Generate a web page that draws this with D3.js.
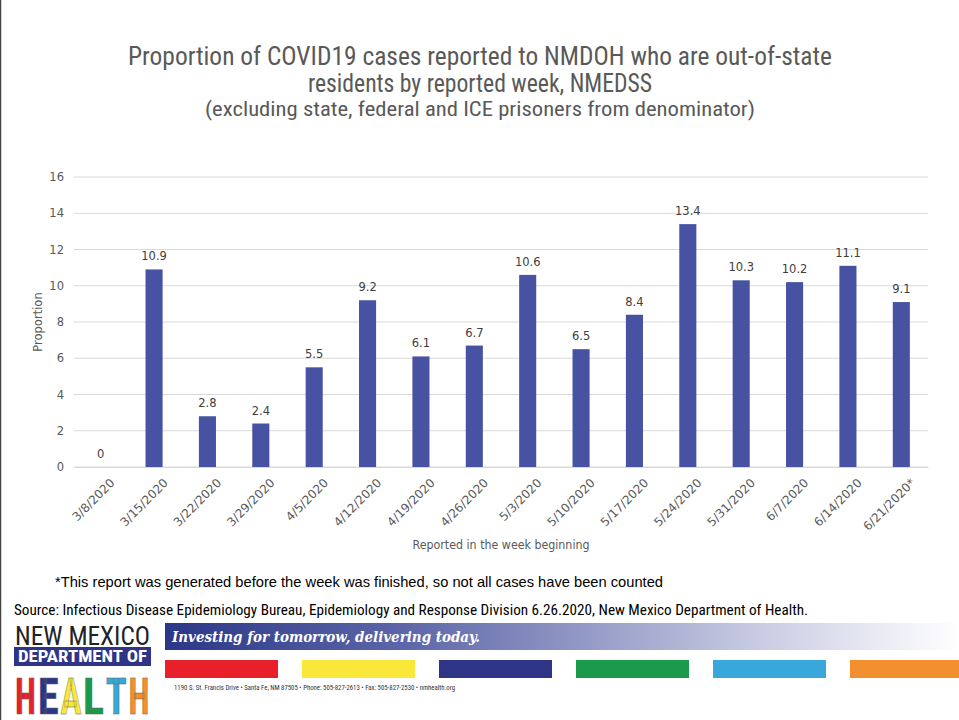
<!DOCTYPE html>
<html><head><meta charset="utf-8">
<script src="https://cdn.jsdelivr.net/npm/d3@7"></script>
<style>
body{margin:0;background:#fff;}
svg{display:block;}
</style></head>
<body>
<script>
const categories = ["3/8/2020","3/15/2020","3/22/2020","3/29/2020","4/5/2020","4/12/2020","4/19/2020","4/26/2020","5/3/2020","5/10/2020","5/17/2020","5/24/2020","5/31/2020","6/7/2020","6/14/2020","6/21/2020*"];
const values = [0,10.9,2.8,2.4,5.5,9.2,6.1,6.7,10.6,6.5,8.4,13.4,10.3,10.2,11.1,9.1];
const yTicks = [0,2,4,6,8,10,12,14,16];
const stripeColors = ["#e8202a","#f9e83a","#2e3586","#1b9a4b","#39a6dc","#f28f2e"];
const healthColors = ["#e8202a","#2e3586","#f9e83a","#1b9a4b","#39a6dc","#f28f2e"];

const W=959,H=720;
const svg=d3.select("body").append("svg").attr("width",W).attr("height",H);
svg.append("rect").attr("width",W).attr("height",H).attr("fill","#fff");
svg.append("line").attr("x1",0.5).attr("x2",0.5).attr("y1",0).attr("y2",H).attr("stroke","#444").attr("stroke-width",1.5);

const narrow='"Liberation Sans Narrow","Roboto Condensed","Arial Narrow",sans-serif';
const sans='"Liberation Sans",Arial,sans-serif';
const wide='"DejaVu Sans",Verdana,sans-serif';

// titles
const tcol="#595959";
svg.append("text").attr("x",480).attr("y",65).attr("text-anchor","middle").attr("font-family",narrow).attr("font-size",25).attr("textLength",704).attr("lengthAdjust","spacingAndGlyphs").attr("fill",tcol).text("Proportion of COVID19 cases reported to NMDOH who are out-of-state");
svg.append("text").attr("x",480).attr("y",92).attr("text-anchor","middle").attr("font-family",narrow).attr("font-size",25).attr("textLength",344).attr("lengthAdjust","spacingAndGlyphs").attr("fill",tcol).text("residents by reported week, NMEDSS");
svg.append("text").attr("x",480).attr("y",116).attr("text-anchor","middle").attr("font-family",narrow).attr("font-size",21).attr("textLength",550).attr("lengthAdjust","spacingAndGlyphs").attr("fill",tcol).text("(excluding state, federal and ICE prisoners from denominator)");

const x=d3.scaleBand().domain(categories).range([74,928]).paddingInner(0.68).paddingOuter(0.34);
const y=d3.scaleLinear().domain([0,16]).range([467,177]);

// gridlines
svg.append("g").selectAll("line").data(yTicks).join("line")
 .attr("x1",74).attr("x2",928).attr("y1",d=>y(d)).attr("y2",d=>y(d))
 .attr("stroke","#d9d9d9").attr("stroke-width",1);

const yAxis=svg.append("g").attr("transform","translate(74,0)").call(d3.axisLeft(y).tickValues(yTicks).tickSize(0).tickPadding(10));
yAxis.select(".domain").remove();
yAxis.selectAll("text").attr("font-family",wide).attr("font-size",11.5).attr("fill",tcol);

svg.append("g").selectAll("rect").data(values).join("rect")
 .attr("x",(d,i)=>x(categories[i])).attr("width",x.bandwidth())
 .attr("y",d=>y(d)).attr("height",d=>y(0)-y(d)).attr("fill","#4753a2");

svg.append("g").selectAll("text").data(values).join("text")
 .attr("x",(d,i)=>x(categories[i])+x.bandwidth()/2).attr("y",d=>y(d)-9)
 .attr("text-anchor","middle").attr("font-family",wide).attr("font-size",11.5).attr("fill","#404040")
 .text(d=>d);

const xAxis=svg.append("g").attr("transform","translate(0,467)").call(d3.axisBottom(x).tickSize(0).tickPadding(8));
xAxis.select(".domain").attr("stroke","#d9d9d9");
xAxis.selectAll("text").attr("font-family",wide).attr("font-size",12).attr("fill",tcol)
 .attr("text-anchor","end").attr("dy","0.35em").attr("transform","translate(6,8) rotate(-45)");

svg.append("text").attr("x",501).attr("y",549).attr("text-anchor","middle").attr("font-family",wide).attr("font-size",12).attr("textLength",177).attr("lengthAdjust","spacingAndGlyphs").attr("fill",tcol).text("Reported in the week beginning");
svg.append("text").attr("transform","translate(42,322) rotate(-90)").attr("text-anchor","middle").attr("font-family",wide).attr("font-size",11.5).attr("fill",tcol).text("Proportion");

svg.append("text").attr("x",55).attr("y",587).attr("font-family",sans).attr("font-size",14.5).attr("textLength",608).attr("lengthAdjust","spacingAndGlyphs").attr("fill","#000").text("*This report was generated before the week was finished, so not all cases have been counted");
svg.append("text").attr("x",14).attr("y",615).attr("font-family",narrow).attr("font-size",15).attr("textLength",794).attr("lengthAdjust","spacingAndGlyphs").attr("fill","#000").text("Source: Infectious Disease Epidemiology Bureau, Epidemiology and Response Division 6.26.2020, New Mexico Department of Health.");

// footer banner
const defs=svg.append("defs");
const g=defs.append("linearGradient").attr("id","ban").attr("x1","0").attr("x2","1");
g.append("stop").attr("offset","0").attr("stop-color","#2b3787");
g.append("stop").attr("offset","0.3").attr("stop-color","#5c66a8");
g.append("stop").attr("offset","0.75").attr("stop-color","#c9cce3");
g.append("stop").attr("offset","1").attr("stop-color","#ffffff");
svg.append("rect").attr("x",165).attr("y",623).attr("width",794).attr("height",27).attr("fill","url(#ban)");
svg.append("text").attr("x",172).attr("y",642).attr("font-family",'"DejaVu Serif",serif').attr("font-style","italic").attr("font-weight","bold").attr("font-size",14).attr("textLength",308).attr("lengthAdjust","spacingAndGlyphs").attr("fill","#fff").text("Investing for tomorrow, delivering today.");

const sx=d3.scaleBand().domain(d3.range(stripeColors.length)).range([165,963]).paddingInner(0.175).paddingOuter(0);
svg.append("g").selectAll("rect").data(stripeColors).join("rect")
 .attr("x",(d,i)=>sx(i)).attr("width",(d,i)=>Math.min(sx.bandwidth(),W-sx(i))).attr("y",660).attr("height",18).attr("fill",d=>d);

svg.append("text").attr("x",174).attr("y",690).attr("font-family",narrow).attr("font-size",7).attr("textLength",281).attr("lengthAdjust","spacingAndGlyphs").attr("fill","#333").text("1190 S. St. Francis Drive • Santa Fe, NM 87505 • Phone: 505-827-2613 • Fax: 505-827-2530 • nmhealth.org");

// logo
svg.append("text").attr("x",15).attr("y",645).attr("font-family",narrow).attr("font-size",25).attr("textLength",135).attr("lengthAdjust","spacingAndGlyphs").attr("fill","#222").text("NEW MEXICO");
svg.append("rect").attr("x",14).attr("y",647).attr("width",137).attr("height",19).attr("fill","#2e3586");
svg.append("text").attr("x",18).attr("y",662).attr("font-family",narrow).attr("font-weight","bold").attr("font-size",16).attr("textLength",129).attr("lengthAdjust","spacingAndGlyphs").attr("fill","#fff").text("DEPARTMENT OF");
const letters=["H","E","A","L","T","H"];
svg.append("g").selectAll("text").data(letters).join("text")
 .attr("x",(d,i)=>15+i*22.7).attr("y",714).attr("font-family",narrow).attr("font-weight","bold").attr("font-size",50)
 .attr("textLength",21).attr("lengthAdjust","spacingAndGlyphs")
 .attr("fill",(d,i)=>healthColors[i]).attr("stroke","#666").attr("stroke-width",0.5).text(d=>d);
</script>
</body></html>
